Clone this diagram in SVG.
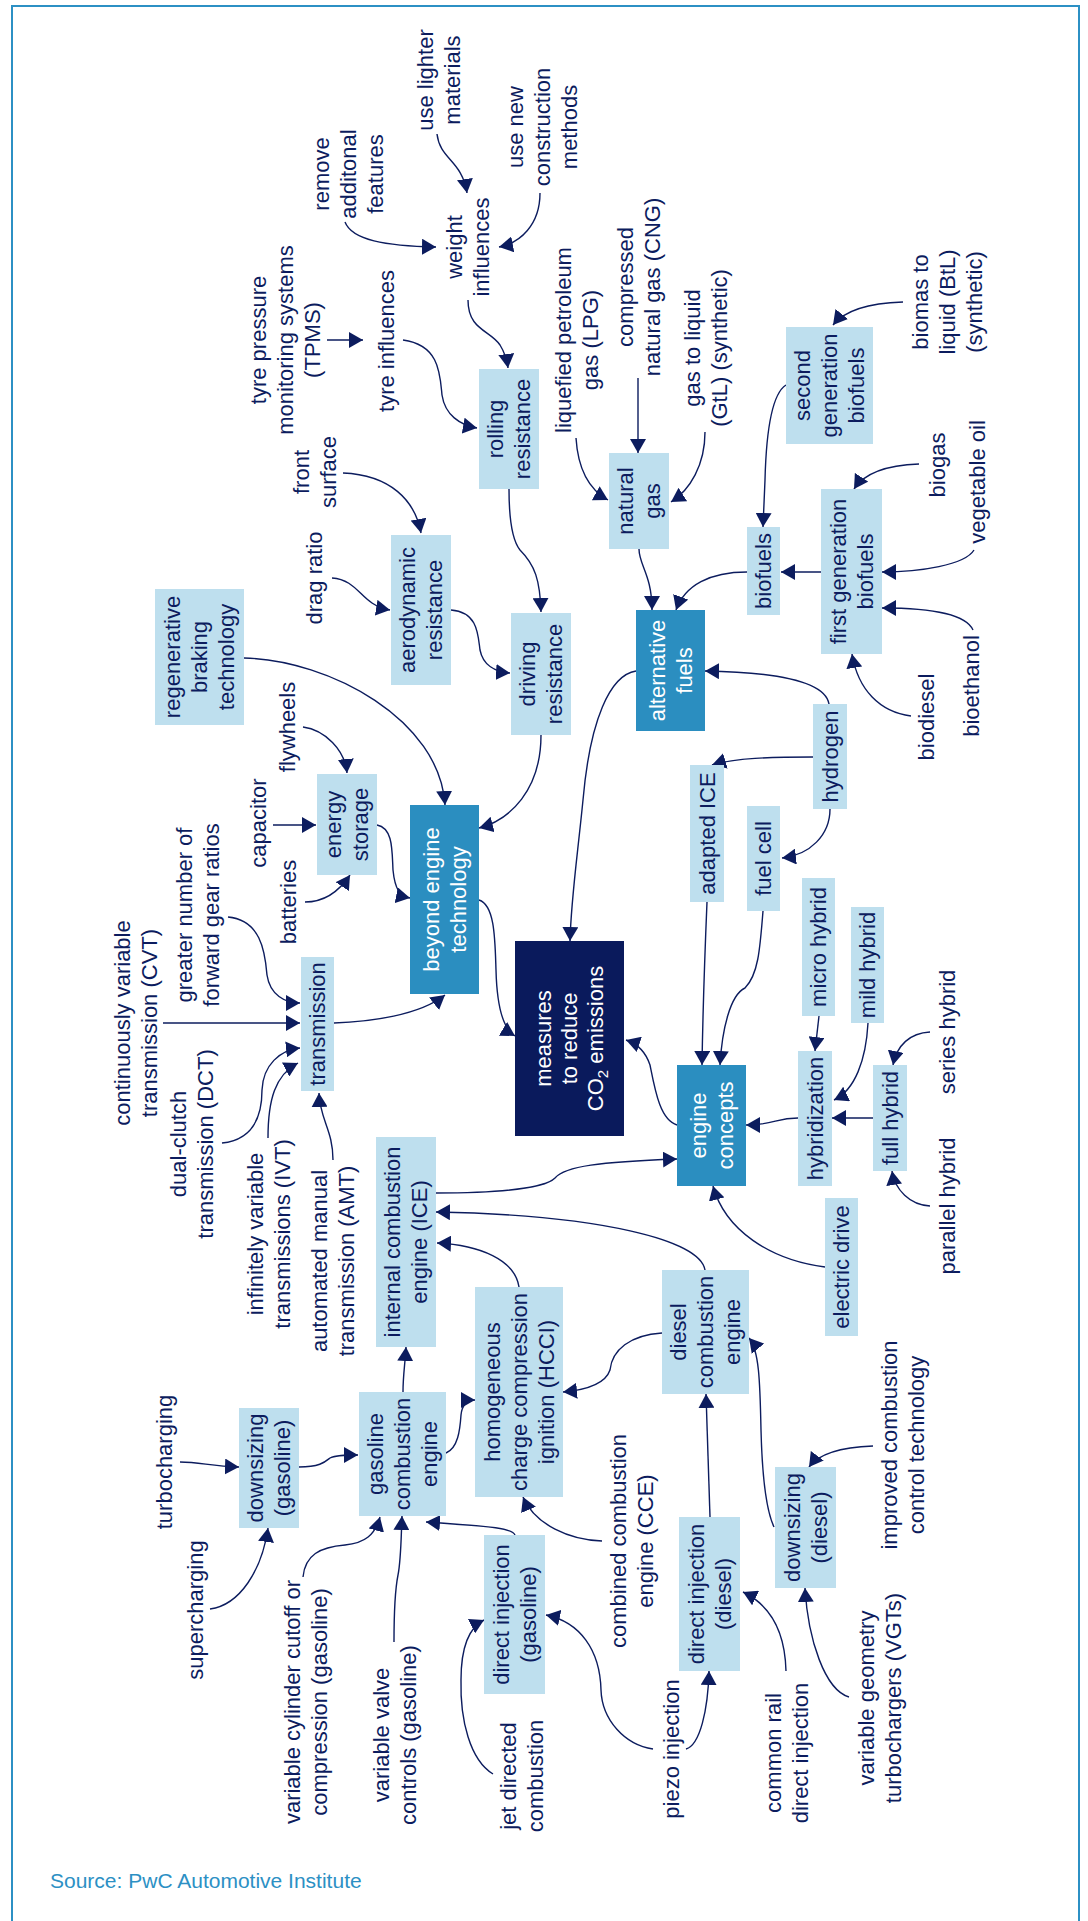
<svg xmlns="http://www.w3.org/2000/svg" width="1088" height="1921" viewBox="0 0 1088 1921">
<defs>
<style>
.t{font-family:"Liberation Sans",Arial,Helvetica,sans-serif;font-size:22px;fill:#0c1c5e;text-anchor:middle}
.w{fill:#ffffff}
.lb{fill:#bedfee}
.tb{fill:#2b8ec0}
.nb{fill:#0a1a5c}
.e{fill:none;stroke:#0c1c5e;stroke-width:1.4;marker-end:url(#ah)}
.src{font-family:"Liberation Sans",Arial,Helvetica,sans-serif;font-size:21px;fill:#2c90c4}
</style>
<marker id="ah" markerUnits="userSpaceOnUse" markerWidth="14" markerHeight="16" viewBox="0 0 14 16" refX="14" refY="8" orient="auto"><path d="M0,0 L14,8 L0,16 z" fill="#0c1c5e"/></marker>
</defs>
<rect x="0" y="0" width="1088" height="1921" fill="#ffffff"/>
<rect x="12" y="6" width="1067" height="1930" fill="none" stroke="#2c90c4" stroke-width="2"/>
<text class="src" x="50" y="1888">Source: PwC Automotive Institute</text>

<g id="connectors">
<path class="e" d="M 437 134 C 440 160, 462 160, 467 193"/>
<path class="e" d="M 540 193 C 540 225, 520 243, 499 247"/>
<path class="e" d="M 345 222 C 352 240, 385 246, 436 247"/>
<path class="e" d="M 468 300 C 468 330, 490 330, 500 345 C 505 353, 507 360, 508 368"/>
<path class="e" d="M 403 340 C 440 345, 440 375, 442 395 C 445 415, 460 425, 477 428"/>
<path class="e" d="M 327 340 L 363 340"/>
<path class="e" d="M 343 473 C 390 475, 415 500, 421 533"/>
<path class="e" d="M 332 578 C 360 580, 360 605, 390 610"/>
<path class="e" d="M 451 610 C 478 612, 478 635, 480 650 C 483 665, 495 672, 510 673"/>
<path class="e" d="M 509 489 C 509 520, 512 540, 520 550 C 535 565, 540 580, 541 612"/>
<path class="e" d="M 541 735 C 541 790, 510 820, 479 828"/>
<path class="e" d="M 244 658 C 330 660, 440 720, 445 805"/>
<path class="e" d="M 303 727 C 325 730, 345 750, 347 773"/>
<path class="e" d="M 273 825 L 316 825"/>
<path class="e" d="M 305 902 C 325 902, 340 890, 350 875"/>
<path class="e" d="M 377 825 C 393 828, 392 850, 393 870 C 395 890, 400 896, 410 898"/>
<path class="e" d="M 479 900 C 495 905, 495 940, 496 970 C 497 1010, 505 1030, 515 1036"/>
<path class="e" d="M 334 1023 C 370 1022, 420 1015, 445 995"/>
<path class="e" d="M 228 917 C 260 920, 265 950, 267 975 C 270 995, 285 1003, 300 1003"/>
<path class="e" d="M 163 1023 L 300 1023"/>
<path class="e" d="M 222 1143 C 250 1140, 262 1120, 262 1090 C 263 1065, 280 1050, 300 1048"/>
<path class="e" d="M 268 1138 C 268 1100, 275 1075, 298 1063"/>
<path class="e" d="M 333 1160 C 333 1130, 320 1120, 319 1093"/>
<path class="e" d="M 636 671 C 610 675, 590 720, 583 800 C 577 860, 571 900, 570 941"/>
<path class="e" d="M 639 549 C 639 565, 652 575, 652 610"/>
<path class="e" d="M 747 572 C 710 572, 685 585, 676 610"/>
<path class="e" d="M 821 572 L 781 572"/>
<path class="e" d="M 974 550 C 965 565, 920 572, 882 572"/>
<path class="e" d="M 919 464 C 890 465, 865 472, 854 489"/>
<path class="e" d="M 973 630 C 965 612, 920 608, 882 608"/>
<path class="e" d="M 911 716 C 880 712, 858 690, 852 654"/>
<path class="e" d="M 786 385 C 770 395, 766 440, 765 480 L 763 527"/>
<path class="e" d="M 903 302 C 870 303, 845 310, 833 325"/>
<path class="e" d="M 576 438 C 578 470, 590 490, 608 500"/>
<path class="e" d="M 638 378 L 638 453"/>
<path class="e" d="M 705 432 C 705 465, 690 490, 671 502"/>
<path class="e" d="M 829 704 C 825 680, 770 672, 705 671"/>
<path class="e" d="M 813 757 C 770 757, 735 758, 712 765"/>
<path class="e" d="M 830 809 C 830 835, 810 855, 782 858"/>
<path class="e" d="M 707 902 C 705 950, 703 1000, 702 1065"/>
<path class="e" d="M 763 911 C 760 950, 758 975, 745 988 C 730 995, 722 1030, 720 1065"/>
<path class="e" d="M 819 1016 L 815 1051"/>
<path class="e" d="M 868 1023 C 866 1060, 855 1090, 834 1100"/>
<path class="e" d="M 873 1118 L 832 1118"/>
<path class="e" d="M 798 1118 C 775 1118, 775 1125, 746 1125"/>
<path class="e" d="M 930 1032 C 910 1033, 897 1045, 893 1065"/>
<path class="e" d="M 930 1206 C 910 1205, 895 1190, 892 1171"/>
<path class="e" d="M 825 1267 C 770 1260, 725 1230, 713 1186"/>
<path class="e" d="M 677 1125 C 660 1120, 655 1090, 650 1065 C 645 1050, 635 1043, 626 1040"/>
<path class="e" d="M 436 1193 C 500 1193, 545 1188, 555 1178 C 565 1166, 600 1162, 677 1159"/>
<path class="e" d="M 705 1270 C 700 1240, 600 1215, 436 1212"/>
<path class="e" d="M 519 1287 C 515 1260, 480 1245, 437 1243"/>
<path class="e" d="M 662 1333 C 630 1335, 612 1350, 610 1370 C 605 1385, 585 1390, 563 1392"/>
<path class="e" d="M 403 1392 C 403 1375, 405 1365, 406 1347"/>
<path class="e" d="M 446 1453 C 458 1448, 460 1430, 461 1415 C 462 1405, 466 1400, 475 1400"/>
<path class="e" d="M 299 1467 C 320 1467, 325 1462, 330 1458 C 335 1455, 345 1455, 358 1455"/>
<path class="e" d="M 180 1462 C 200 1462, 210 1466, 239 1467"/>
<path class="e" d="M 210 1609 C 240 1605, 262 1570, 268 1528"/>
<path class="e" d="M 303 1577 C 305 1555, 320 1547, 345 1545 C 365 1543, 375 1535, 380 1517"/>
<path class="e" d="M 394 1642 C 394 1600, 396 1585, 398 1575 C 401 1560, 401 1540, 402 1516"/>
<path class="e" d="M 515 1535 C 512 1527, 480 1526, 426 1522"/>
<path class="e" d="M 602 1541 C 570 1540, 535 1525, 523 1497"/>
<path class="e" d="M 493 1774 C 470 1760, 460 1720, 461 1680 C 461 1650, 468 1628, 484 1620"/>
<path class="e" d="M 653 1749 C 625 1745, 602 1720, 601 1690 C 600 1650, 580 1622, 546 1615"/>
<path class="e" d="M 686 1749 C 700 1745, 708 1710, 709 1671"/>
<path class="e" d="M 710 1517 L 706 1394"/>
<path class="e" d="M 786 1671 C 785 1630, 770 1605, 743 1592"/>
<path class="e" d="M 849 1697 C 825 1690, 808 1640, 805 1588"/>
<path class="e" d="M 873 1446 C 845 1447, 820 1452, 809 1467"/>
<path class="e" d="M 774 1527 C 766 1510, 762 1470, 761 1430 C 760 1380, 759 1350, 749 1338"/>
</g>

<!-- boxed nodes -->
<g id="n-rolling"><rect class="lb" x="479" y="369" width="60" height="120"/><text class="t" transform="translate(509 429) rotate(-90)"><tspan x="0" y="-6">rolling</tspan><tspan x="0" y="21">resistance</tspan></text></g>
<g id="n-naturalgas"><rect class="lb" x="609" y="453" width="60" height="96"/><text class="t" transform="translate(639 501) rotate(-90)"><tspan x="0" y="-6">natural</tspan><tspan x="0" y="21">gas</tspan></text></g>
<g id="n-aero"><rect class="lb" x="391" y="535" width="60" height="150"/><text class="t" transform="translate(421 610) rotate(-90)"><tspan x="0" y="-6">aerodynamic</tspan><tspan x="0" y="21">resistance</tspan></text></g>
<g id="n-driving"><rect class="lb" x="511" y="613" width="60" height="122"/><text class="t" transform="translate(541 674) rotate(-90)"><tspan x="0" y="-6">driving</tspan><tspan x="0" y="21">resistance</tspan></text></g>
<g id="n-altfuels"><rect class="tb" x="636" y="610" width="69" height="121"/><text class="t w" transform="translate(670.5 670.5) rotate(-90)"><tspan x="0" y="-6">alternative</tspan><tspan x="0" y="21">fuels</tspan></text></g>
<g id="n-beyond"><rect class="tb" x="410" y="805" width="69" height="189"/><text class="t w" transform="translate(444.5 899.5) rotate(-90)"><tspan x="0" y="-6">beyond engine</tspan><tspan x="0" y="21">technology</tspan></text></g>
<g id="n-measures"><rect class="nb" x="515" y="941" width="109" height="195"/><text class="t w" transform="translate(569.5 1038.5) rotate(-90)"><tspan x="0" y="-18.5">measures</tspan><tspan x="0" y="7.5">to reduce</tspan><tspan x="0" y="33.5">CO<tspan font-size="15" dy="5">2</tspan><tspan dy="-5"> emissions</tspan></tspan></text></g>
<g id="n-adaptedice"><rect class="lb" x="690" y="765" width="34" height="137"/><text class="t" transform="translate(707 833.5) rotate(-90)"><tspan x="0" y="7.5">adapted ICE</tspan></text></g>
<g id="n-biofuels"><rect class="lb" x="747" y="527" width="33" height="88"/><text class="t" transform="translate(763.5 571) rotate(-90)"><tspan x="0" y="7.5">biofuels</tspan></text></g>
<g id="n-firstgen"><rect class="lb" x="821" y="489" width="61" height="165"/><text class="t" transform="translate(851.5 571.5) rotate(-90)"><tspan x="0" y="-6">first generation</tspan><tspan x="0" y="21">biofuels</tspan></text></g>
<g id="n-hydrogen"><rect class="lb" x="813" y="704" width="34" height="105"/><text class="t" transform="translate(830 756.5) rotate(-90)"><tspan x="0" y="7.5">hydrogen</tspan></text></g>
<g id="n-fuelcell"><rect class="lb" x="747" y="806" width="33" height="105"/><text class="t" transform="translate(763.5 858.5) rotate(-90)"><tspan x="0" y="7.5">fuel cell</tspan></text></g>
<g id="n-microhybrid"><rect class="lb" x="802" y="878" width="33" height="138"/><text class="t" transform="translate(818.5 947) rotate(-90)"><tspan x="0" y="7.5">micro hybrid</tspan></text></g>
<g id="n-mildhybrid"><rect class="lb" x="851" y="907" width="33" height="116"/><text class="t" transform="translate(867.5 965) rotate(-90)"><tspan x="0" y="7.5">mild hybrid</tspan></text></g>
<g id="n-secondgen"><rect class="lb" x="786" y="327" width="87" height="117"/><text class="t" transform="translate(829.5 385.5) rotate(-90)"><tspan x="0" y="-19.5">second</tspan><tspan x="0" y="7.5">generation</tspan><tspan x="0" y="34.5">biofuels</tspan></text></g>
<g id="n-regen"><rect class="lb" x="155" y="589" width="89" height="136"/><text class="t" transform="translate(199.5 657) rotate(-90)"><tspan x="0" y="-19.5">regenerative</tspan><tspan x="0" y="7.5">braking</tspan><tspan x="0" y="34.5">technology</tspan></text></g>
<g id="n-energystorage"><rect class="lb" x="317" y="774" width="60" height="101"/><text class="t" transform="translate(347 824.5) rotate(-90)"><tspan x="0" y="-6">energy</tspan><tspan x="0" y="21">storage</tspan></text></g>
<g id="n-transmission"><rect class="lb" x="301" y="957" width="33" height="134"/><text class="t" transform="translate(317.5 1024) rotate(-90)"><tspan x="0" y="7.5">transmission</tspan></text></g>
<g id="n-ice"><rect class="lb" x="376" y="1137" width="60" height="210"/><text class="t" transform="translate(406 1242) rotate(-90)"><tspan x="0" y="-6">internal combustion</tspan><tspan x="0" y="21">engine (ICE)</tspan></text></g>
<g id="n-engineconcepts"><rect class="tb" x="677" y="1065" width="69" height="121"/><text class="t w" transform="translate(711.5 1125.5) rotate(-90)"><tspan x="0" y="-6">engine</tspan><tspan x="0" y="21">concepts</tspan></text></g>
<g id="n-hcci"><rect class="lb" x="475" y="1287" width="88" height="210"/><text class="t" transform="translate(519 1392) rotate(-90)"><tspan x="0" y="-19.5">homogeneous</tspan><tspan x="0" y="7.5">charge compression</tspan><tspan x="0" y="34.5">ignition (HCCI)</tspan></text></g>
<g id="n-diesel"><rect class="lb" x="662" y="1270" width="87" height="124"/><text class="t" transform="translate(705.5 1332) rotate(-90)"><tspan x="0" y="-19.5">diesel</tspan><tspan x="0" y="7.5">combustion</tspan><tspan x="0" y="34.5">engine</tspan></text></g>
<g id="n-gasoline"><rect class="lb" x="359" y="1392" width="87" height="124"/><text class="t" transform="translate(402.5 1454) rotate(-90)"><tspan x="0" y="-19.5">gasoline</tspan><tspan x="0" y="7.5">combustion</tspan><tspan x="0" y="34.5">engine</tspan></text></g>
<g id="n-hybridization"><rect class="lb" x="798" y="1051" width="34" height="135"/><text class="t" transform="translate(815 1118.5) rotate(-90)"><tspan x="0" y="7.5">hybridization</tspan></text></g>
<g id="n-fullhybrid"><rect class="lb" x="873" y="1065" width="34" height="106"/><text class="t" transform="translate(890 1118) rotate(-90)"><tspan x="0" y="7.5">full hybrid</tspan></text></g>
<g id="n-electricdrive"><rect class="lb" x="825" y="1198" width="33" height="138"/><text class="t" transform="translate(841.5 1267) rotate(-90)"><tspan x="0" y="7.5">electric drive</tspan></text></g>
<g id="n-downsizinggas"><rect class="lb" x="239" y="1408" width="60" height="120"/><text class="t" transform="translate(269 1468) rotate(-90)"><tspan x="0" y="-6">downsizing</tspan><tspan x="0" y="21">(gasoline)</tspan></text></g>
<g id="n-dirinjgas"><rect class="lb" x="484" y="1535" width="61" height="159"/><text class="t" transform="translate(514.5 1614.5) rotate(-90)"><tspan x="0" y="-6">direct injection</tspan><tspan x="0" y="21">(gasoline)</tspan></text></g>
<g id="n-dirinjdiesel"><rect class="lb" x="679" y="1517" width="61" height="154"/><text class="t" transform="translate(709.5 1594) rotate(-90)"><tspan x="0" y="-6">direct injection</tspan><tspan x="0" y="21">(diesel)</tspan></text></g>
<g id="n-downsizingdiesel"><rect class="lb" x="775" y="1467" width="61" height="121"/><text class="t" transform="translate(805.5 1527.5) rotate(-90)"><tspan x="0" y="-6">downsizing</tspan><tspan x="0" y="21">(diesel)</tspan></text></g>

<!-- plain text nodes -->
<g id="n-tpms"><text class="t" transform="translate(266 340) rotate(-90)"><tspan x="0" y="0">tyre pressure</tspan><tspan x="0" y="27">monitoring systems</tspan><tspan x="0" y="54">(TPMS)</tspan></text></g>
<g id="n-remove"><text class="t" transform="translate(329 174) rotate(-90)"><tspan x="0" y="0">remove</tspan><tspan x="0" y="27">additonal</tspan><tspan x="0" y="54">features</tspan></text></g>
<g id="n-lighter"><text class="t" transform="translate(433 80) rotate(-90)"><tspan x="0" y="0">use lighter</tspan><tspan x="0" y="27">materials</tspan></text></g>
<g id="n-newconstr"><text class="t" transform="translate(523 127) rotate(-90)"><tspan x="0" y="0">use new</tspan><tspan x="0" y="27">construction</tspan><tspan x="0" y="54">methods</tspan></text></g>
<g id="n-weight"><text class="t" transform="translate(462 247) rotate(-90)"><tspan x="0" y="0">weight</tspan><tspan x="0" y="27">influences</tspan></text></g>
<g id="n-tyre"><text class="t" transform="translate(394 341) rotate(-90)"><tspan x="0" y="0">tyre influences</tspan></text></g>
<g id="n-lpg"><text class="t" transform="translate(571 340) rotate(-90)"><tspan x="0" y="0">liquefied petroleum</tspan><tspan x="0" y="27">gas (LPG)</tspan></text></g>
<g id="n-cng"><text class="t" transform="translate(633 287) rotate(-90)"><tspan x="0" y="0">compressed</tspan><tspan x="0" y="27">natural gas (CNG)</tspan></text></g>
<g id="n-gtl"><text class="t" transform="translate(700 348) rotate(-90)"><tspan x="0" y="0">gas to liquid</tspan><tspan x="0" y="27">(GtL) (synthetic)</tspan></text></g>
<g id="n-btl"><text class="t" transform="translate(928 302) rotate(-90)"><tspan x="0" y="0">biomas to</tspan><tspan x="0" y="27">liquid (BtL)</tspan><tspan x="0" y="54">(synthetic)</tspan></text></g>
<g id="n-biogas"><text class="t" transform="translate(945 465) rotate(-90)"><tspan x="0" y="0">biogas</tspan></text></g>
<g id="n-vegoil"><text class="t" transform="translate(985 482) rotate(-90)"><tspan x="0" y="0">vegetable oil</tspan></text></g>
<g id="n-biodiesel"><text class="t" transform="translate(934 717) rotate(-90)"><tspan x="0" y="0">biodiesel</tspan></text></g>
<g id="n-bioethanol"><text class="t" transform="translate(979 686) rotate(-90)"><tspan x="0" y="0">bioethanol</tspan></text></g>
<g id="n-frontsurface"><text class="t" transform="translate(309 472) rotate(-90)"><tspan x="0" y="0">front</tspan><tspan x="0" y="27">surface</tspan></text></g>
<g id="n-dragratio"><text class="t" transform="translate(322 578) rotate(-90)"><tspan x="0" y="0">drag ratio</tspan></text></g>
<g id="n-flywheels"><text class="t" transform="translate(295 727) rotate(-90)"><tspan x="0" y="0">flywheels</tspan></text></g>
<g id="n-capacitor"><text class="t" transform="translate(266 823) rotate(-90)"><tspan x="0" y="0">capacitor</tspan></text></g>
<g id="n-batteries"><text class="t" transform="translate(296 902) rotate(-90)"><tspan x="0" y="0">batteries</tspan></text></g>
<g id="n-gears"><text class="t" transform="translate(192 915) rotate(-90)"><tspan x="0" y="0">greater number of</tspan><tspan x="0" y="27">forward gear ratios</tspan></text></g>
<g id="n-cvt"><text class="t" transform="translate(130 1023) rotate(-90)"><tspan x="0" y="0">continuously variable</tspan><tspan x="0" y="27">transmission (CVT)</tspan></text></g>
<g id="n-dct"><text class="t" transform="translate(186 1144) rotate(-90)"><tspan x="0" y="0">dual-clutch</tspan><tspan x="0" y="27">transmission (DCT)</tspan></text></g>
<g id="n-ivt"><text class="t" transform="translate(263 1234) rotate(-90)"><tspan x="0" y="0">infinitely variable</tspan><tspan x="0" y="27">transmissions (IVT)</tspan></text></g>
<g id="n-amt"><text class="t" transform="translate(327 1261) rotate(-90)"><tspan x="0" y="0">automated manual</tspan><tspan x="0" y="27">transmission (AMT)</tspan></text></g>
<g id="n-turbo"><text class="t" transform="translate(172 1462) rotate(-90)"><tspan x="0" y="0">turbocharging</tspan></text></g>
<g id="n-super"><text class="t" transform="translate(203 1610) rotate(-90)"><tspan x="0" y="0">supercharging</tspan></text></g>
<g id="n-cylcutoff"><text class="t" transform="translate(300 1702) rotate(-90)"><tspan x="0" y="0">variable cylinder cutoff or</tspan><tspan x="0" y="27">compression (gasoline)</tspan></text></g>
<g id="n-valve"><text class="t" transform="translate(389 1735) rotate(-90)"><tspan x="0" y="0">variable valve</tspan><tspan x="0" y="27">controls (gasoline)</tspan></text></g>
<g id="n-jet"><text class="t" transform="translate(516 1776) rotate(-90)"><tspan x="0" y="0">jet directed</tspan><tspan x="0" y="27">combustion</tspan></text></g>
<g id="n-cce"><text class="t" transform="translate(626 1541) rotate(-90)"><tspan x="0" y="0">combined combustion</tspan><tspan x="0" y="27">engine (CCE)</tspan></text></g>
<g id="n-piezo"><text class="t" transform="translate(679 1749) rotate(-90)"><tspan x="0" y="0">piezo injection</tspan></text></g>
<g id="n-commonrail"><text class="t" transform="translate(781 1753) rotate(-90)"><tspan x="0" y="0">common rail</tspan><tspan x="0" y="27">direct injection</tspan></text></g>
<g id="n-vgt"><text class="t" transform="translate(874 1698) rotate(-90)"><tspan x="0" y="0">variable geometry</tspan><tspan x="0" y="27">turbochargers (VGTs)</tspan></text></g>
<g id="n-improved"><text class="t" transform="translate(897 1445) rotate(-90)"><tspan x="0" y="0">improved combustion</tspan><tspan x="0" y="27">control technology</tspan></text></g>
<g id="n-series"><text class="t" transform="translate(955 1032) rotate(-90)"><tspan x="0" y="0">series hybrid</tspan></text></g>
<g id="n-parallel"><text class="t" transform="translate(955 1206) rotate(-90)"><tspan x="0" y="0">parallel hybrid</tspan></text></g>
</svg>
